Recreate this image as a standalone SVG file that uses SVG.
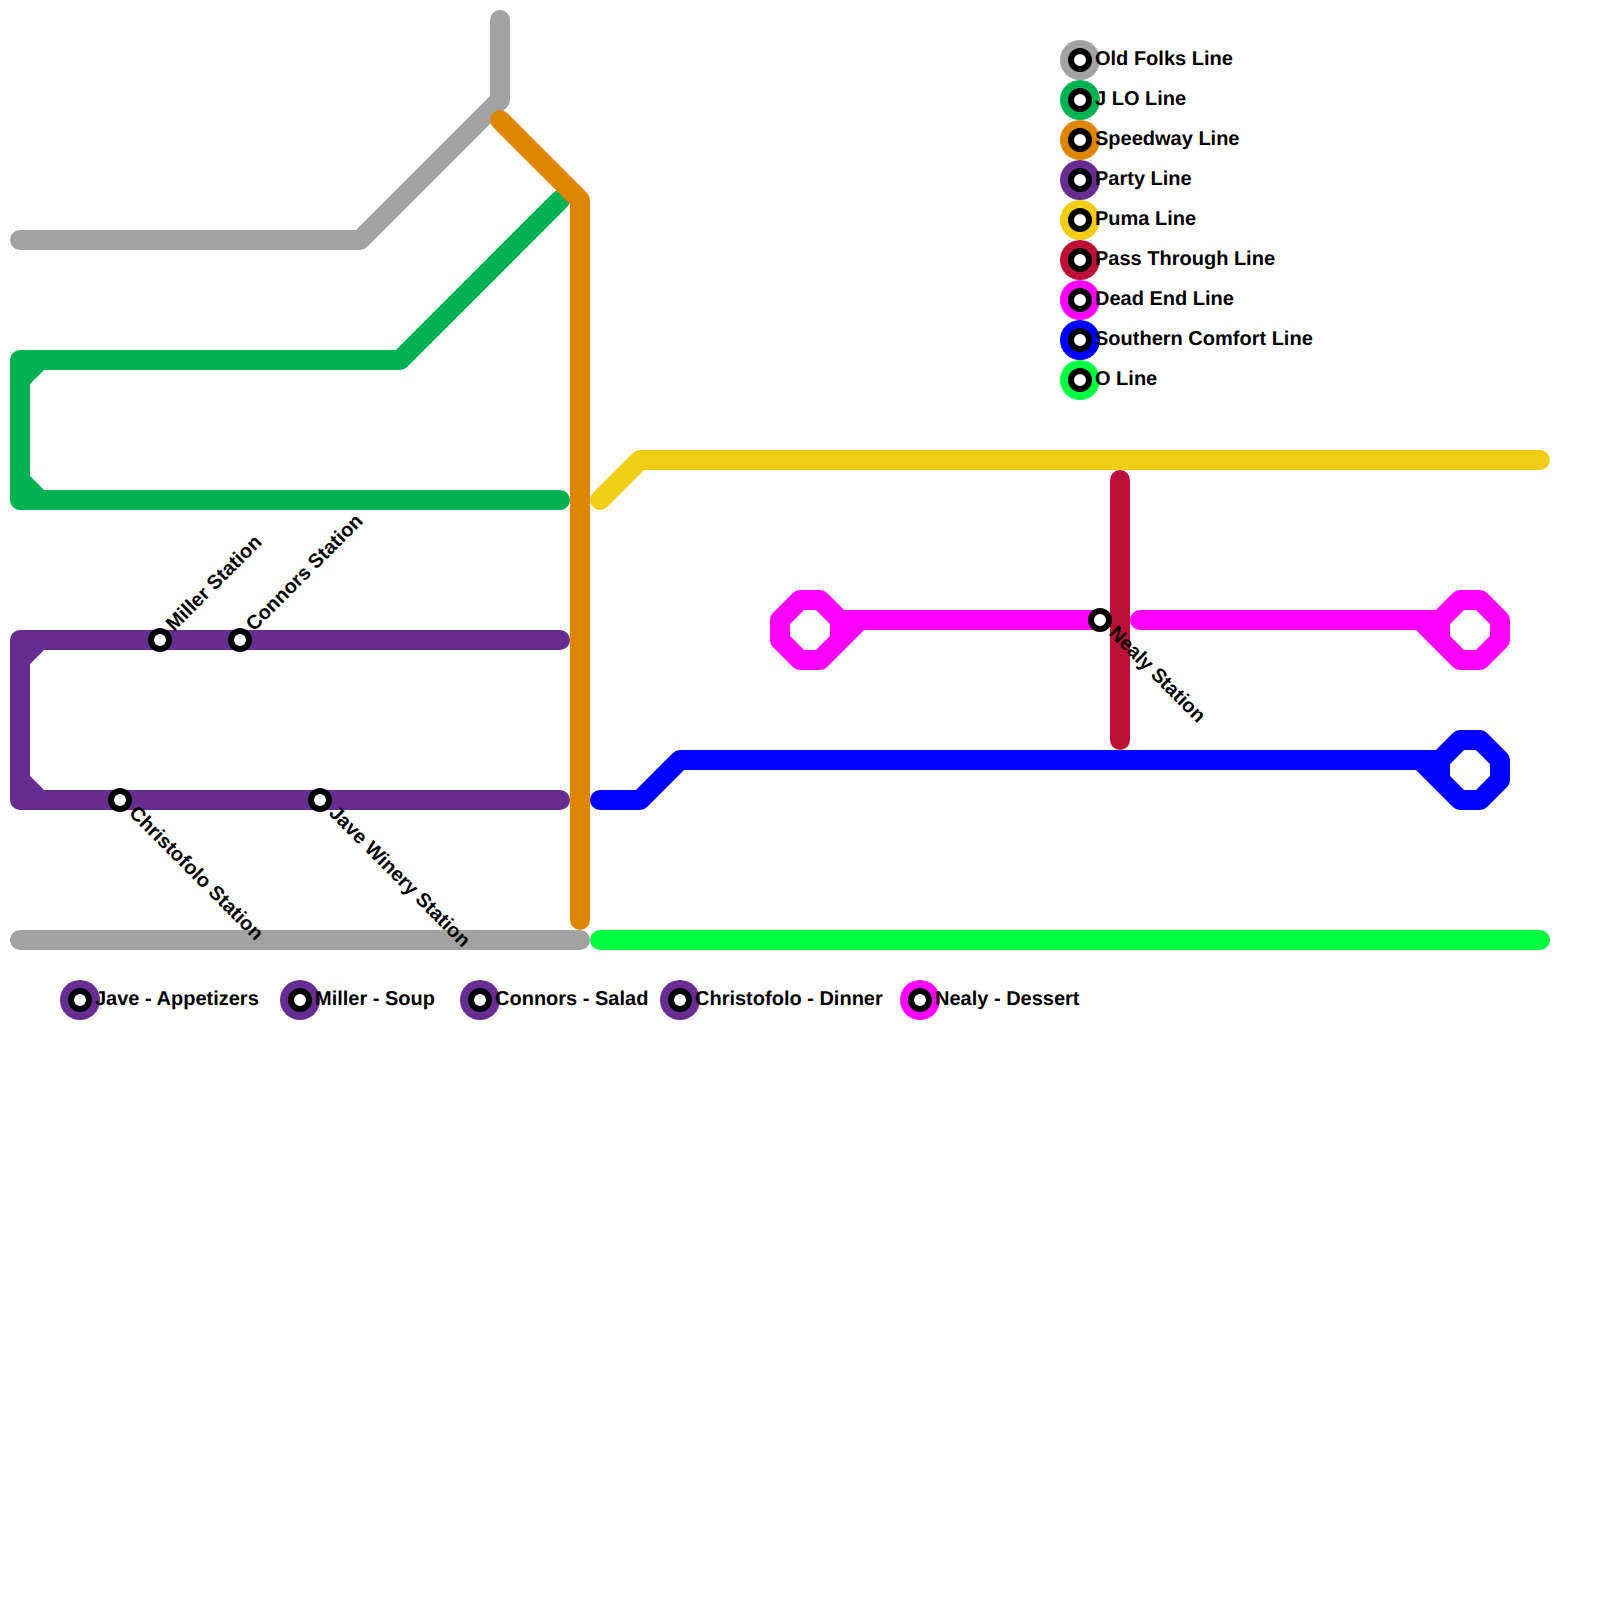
<svg xmlns="http://www.w3.org/2000/svg" width="1600" height="1600" viewBox="0 0 1600 1600">
<style>
.l{fill:none;stroke-width:20;stroke-linecap:round;stroke-linejoin:round}
.st{fill:#fff;stroke:#000;stroke-width:6}
text{font-family:"Liberation Sans",Arial,sans-serif;font-weight:700;font-size:20px;fill:#000;text-rendering:geometricPrecision}
.grey{stroke:#a2a2a2}.green{stroke:#00b251}.orange{stroke:#df8600}.purple{stroke:#662c90}.yellow{stroke:#f0ce15}.crimson{stroke:#bd1038}.pink{stroke:#f0f}.blue{stroke:#00f}.lime{stroke:#00ff40}
.fgrey{fill:#a2a2a2}.fgreen{fill:#00b251}.forange{fill:#df8600}.fpurple{fill:#662c90}.fyellow{fill:#f0ce15}.fcrimson{fill:#bd1038}.fpink{fill:#f0f}.fblue{fill:#00f}.flime{fill:#00ff40}
</style>
<g id="connectors">
<path class="l grey" d="M500 20V100L360 240H20"/>
<path class="l green" d="M560 200L400 360H20V500H560M40 360L20 380M20 480L40 500"/>
<path class="l orange" d="M500 120L580 200V920"/>
<path class="l grey" d="M20 940H580"/>
<path class="l purple" d="M560 640H20V800H560M40 640L20 660M20 780L40 800"/>
<path class="l yellow" d="M600 500L640 460H1540"/>
<path class="l pink" d="M1100 620H840M860 620L820 660M800 600H820L840 620V640L820 660H800L780 640V620Z"/>
<path class="l pink" d="M1140 620H1440M1420 620L1460 660M1460 600H1480L1500 620V640L1480 660H1460L1440 640V620Z"/>
<path class="l crimson" d="M1120 480V740"/>
<path class="l blue" d="M600 800H640L680 760H1440M1420 760L1460 800M1460 740H1480L1500 760V780L1480 800H1460L1440 780V760Z"/>
<path class="l lime" d="M600 940H1540"/>
</g>
<g id="st-miller"><circle class="st" cx="160" cy="640" r="9"/><text transform="translate(174 632) rotate(-45)">Miller Station</text></g>
<g id="st-connors"><circle class="st" cx="240" cy="640" r="9"/><text transform="translate(254 632) rotate(-45)">Connors Station</text></g>
<g id="st-christofolo"><circle class="st" cx="120" cy="800" r="9"/><text transform="translate(128 814) rotate(45)">Christofolo Station</text></g>
<g id="st-jave"><circle class="st" cx="320" cy="800" r="9"/><text transform="translate(328 814) rotate(45)">Jave Winery Station</text></g>
<g id="st-nealy"><circle class="st" cx="1100" cy="620" r="9"/><text transform="translate(1108 634) rotate(45)">Nealy Station</text></g>
<g id="key-old-folks"><circle class="fgrey" cx="1080" cy="60" r="20"/><circle class="st" cx="1080" cy="60" r="9"/><text x="1095" y="65">Old Folks Line</text></g>
<g id="key-jlo"><circle class="fgreen" cx="1080" cy="100" r="20"/><circle class="st" cx="1080" cy="100" r="9"/><text x="1095" y="105">J LO Line</text></g>
<g id="key-speedway"><circle class="forange" cx="1080" cy="140" r="20"/><circle class="st" cx="1080" cy="140" r="9"/><text x="1095" y="145">Speedway Line</text></g>
<g id="key-party"><circle class="fpurple" cx="1080" cy="180" r="20"/><circle class="st" cx="1080" cy="180" r="9"/><text x="1095" y="185">Party Line</text></g>
<g id="key-puma"><circle class="fyellow" cx="1080" cy="220" r="20"/><circle class="st" cx="1080" cy="220" r="9"/><text x="1095" y="225">Puma Line</text></g>
<g id="key-pass"><circle class="fcrimson" cx="1080" cy="260" r="20"/><circle class="st" cx="1080" cy="260" r="9"/><text x="1095" y="265">Pass Through Line</text></g>
<g id="key-dead"><circle class="fpink" cx="1080" cy="300" r="20"/><circle class="st" cx="1080" cy="300" r="9"/><text x="1095" y="305">Dead End Line</text></g>
<g id="key-southern"><circle class="fblue" cx="1080" cy="340" r="20"/><circle class="st" cx="1080" cy="340" r="9"/><text x="1095" y="345">Southern Comfort Line</text></g>
<g id="key-o"><circle class="flime" cx="1080" cy="380" r="20"/><circle class="st" cx="1080" cy="380" r="9"/><text x="1095" y="385">O Line</text></g>
<g id="menu-jave"><circle class="fpurple" cx="80" cy="1000" r="20"/><circle class="st" cx="80" cy="1000" r="9"/><text x="95" y="1005">Jave - Appetizers</text></g>
<g id="menu-miller"><circle class="fpurple" cx="300" cy="1000" r="20"/><circle class="st" cx="300" cy="1000" r="9"/><text x="315" y="1005">Miller - Soup</text></g>
<g id="menu-connors"><circle class="fpurple" cx="480" cy="1000" r="20"/><circle class="st" cx="480" cy="1000" r="9"/><text x="495" y="1005">Connors - Salad</text></g>
<g id="menu-christofolo"><circle class="fpurple" cx="680" cy="1000" r="20"/><circle class="st" cx="680" cy="1000" r="9"/><text x="695" y="1005">Christofolo - Dinner</text></g>
<g id="menu-nealy"><circle class="fpink" cx="920" cy="1000" r="20"/><circle class="st" cx="920" cy="1000" r="9"/><text x="935" y="1005">Nealy - Dessert</text></g>
</svg>
